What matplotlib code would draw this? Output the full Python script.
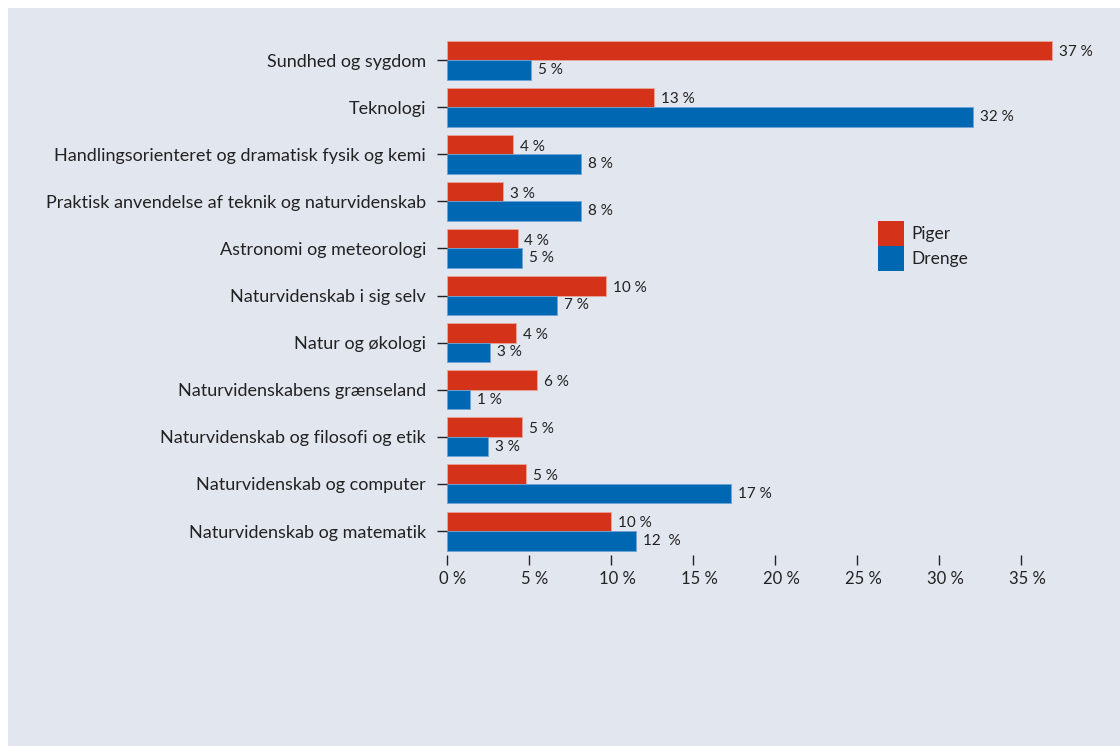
import matplotlib
matplotlib.use("Agg")
import matplotlib.pyplot as plt
from matplotlib.patches import Patch, Rectangle
import matplotlib.transforms as mtransforms
import numpy as np

categories = [
    "Sundhed og sygdom",
    "Teknologi",
    "Handlingsorienteret og dramatisk fysik og kemi",
    "Praktisk anvendelse af teknik og naturvidenskab",
    "Astronomi og meteorologi",
    "Naturvidenskab i sig selv",
    "Natur og økologi",
    "Naturvidenskabens grænseland",
    "Naturvidenskab og filosofi og etik",
    "Naturvidenskab og computer",
    "Naturvidenskab og matematik",
]
piger = [36.9, 12.6, 4.0, 3.4, 4.3, 9.7, 4.2, 5.5, 4.6, 4.8, 10.0]
drenge = [5.1, 32.1, 8.2, 8.2, 4.6, 6.7, 2.6, 1.4, 2.5, 17.3, 11.5]
piger_labels = ["37 %", "13 %", "4 %", "3 %", "4 %", "10 %", "4 %", "6 %", "5 %", "5 %", "10 %"]
drenge_labels = ["5 %", "32 %", "8 %", "8 %", "5 %", "7 %", "3 %", "1 %", "3 %", "17 %", "12  %"]
xticks = [0, 5, 10, 15, 20, 25, 30, 35]
xtick_labels = ["0 %", "5 %", "10 %", "15 %", "20 %", "25 %", "30 %", "35 %"]
series_names = ["Piger", "Drenge"]

RED = "#d5321a"
BLUE = "#0068b2"
BG = "#e2e6ef"
TXT = "#222222"

plt.rcParams["font.family"] = ["Lato", "DejaVu Sans"]

W, H = 1120, 746
fig = plt.figure(figsize=(W / 100, H / 100), dpi=100)
fig.patch.set_facecolor("white")
fig.add_artist(Rectangle((8 / W, 0), 1 - 8 / W, 1 - 8 / H, transform=fig.transFigure,
                         facecolor=BG, edgecolor="none", zorder=0))

px_per_unit = 16.4
x0 = 447
xmax = 38
ax_top, ax_bot = 36.5, 554.6
ax = fig.add_axes([x0 / W, 1 - ax_bot / H, px_per_unit * xmax / W, (ax_bot - ax_top) / H])
ax.set_facecolor("none")

y = np.arange(len(categories))
bh = 0.415
ax.barh(y - bh / 2, piger, height=bh, color=RED, edgecolor="#e8a89c", linewidth=0.6)
ax.barh(y + bh / 2, drenge, height=bh, color=BLUE, edgecolor="#6fa3d6", linewidth=0.6)

for yi, v, lab in zip(y, piger, piger_labels):
    ax.annotate(lab, (v, yi - bh / 2), xytext=(5.0, -1.5), textcoords="offset points",
                va="center", ha="left", fontsize=11, color=TXT)
for yi, v, lab in zip(y, drenge, drenge_labels):
    ax.annotate(lab, (v, yi + bh / 2), xytext=(5.0, 0), textcoords="offset points",
                va="center", ha="left", fontsize=11, color=TXT)

ax.set_ylim(len(categories) - 0.5, -0.5)
ax.set_xlim(0, xmax)
ax.set_yticks(y)
ax.set_yticklabels(categories, fontsize=13, color=TXT)
ax.set_xticks(xticks)
ax.set_xticklabels(xtick_labels, fontsize=12, color=TXT)
ax.tick_params(axis="y", length=7, width=1, color=TXT, pad=8)
ax.tick_params(axis="x", length=7, width=1, color=TXT, pad=5)
shift = mtransforms.ScaledTranslation(6 / 100, 0, fig.dpi_scale_trans)
for lbl in ax.get_xticklabels():
    lbl.set_transform(lbl.get_transform() + shift)
for s in ax.spines.values():
    s.set_visible(False)

handles = [Patch(facecolor=RED, edgecolor="none"), Patch(facecolor=BLUE, edgecolor="none")]
fig.legend(handles, series_names, loc="upper left", bbox_to_anchor=(878 / W, 1 - 221 / H),
           frameon=False, fontsize=12.5, handlelength=1.5, handleheight=1.84,
           labelspacing=0.0, handletextpad=0.45, borderpad=0, borderaxespad=0,
           labelcolor=TXT)

fig.savefig("out.png", dpi=100, facecolor=fig.get_facecolor())
